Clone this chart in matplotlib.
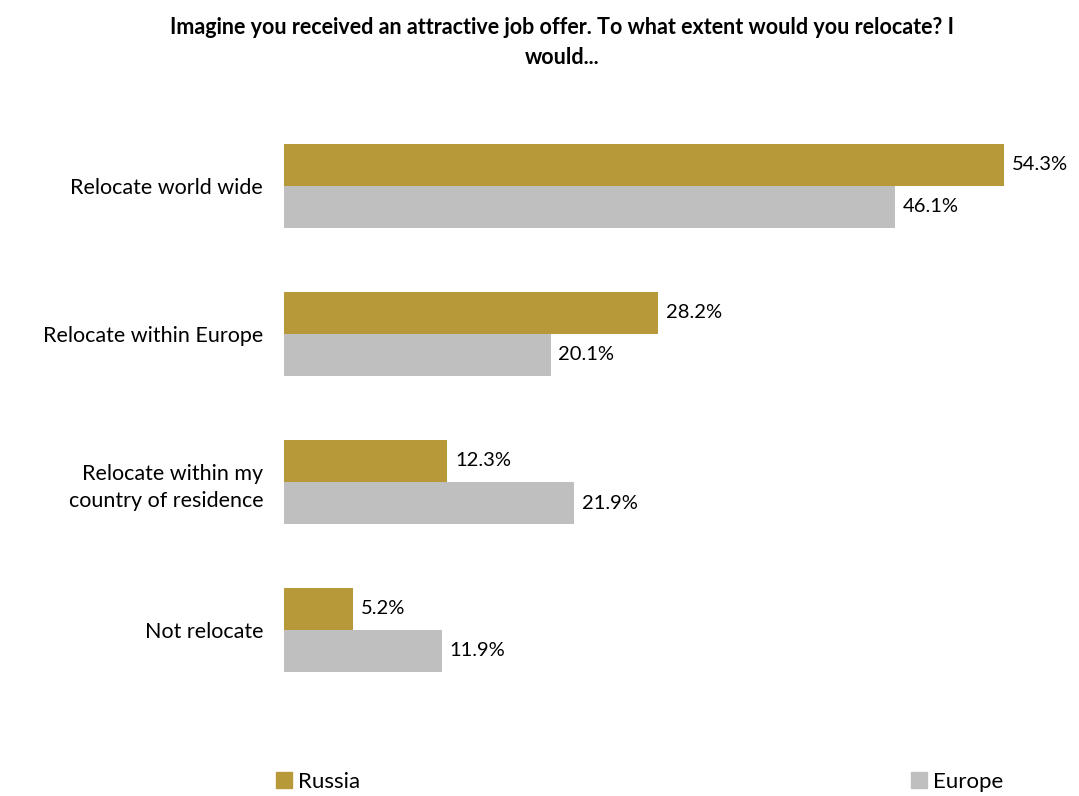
import numpy as np
import matplotlib.pyplot as plt
from matplotlib.patches import Patch

categories = ['Relocate world wide', 'Relocate within Europe',
              'Relocate within my\ncountry of residence', 'Not relocate']
russia = [54.3, 28.2, 12.3, 5.2]
europe = [46.1, 20.1, 21.9, 11.9]
series_names = ['Russia', 'Europe']
colors = ['#B8993A', '#BFBFBF']

plt.rcParams['font.family'] = ['Lato', 'DejaVu Sans']

W, H = 1079, 796
fig = plt.figure(figsize=(W / 100, H / 100), dpi=100)
# axes placed in pixel terms
left, right, top, bottom = 284, 1080, 80, 740
ax = fig.add_axes([left / W, 1 - bottom / H, (right - left) / W, (bottom - top) / H])

y = np.arange(len(categories))
h = 42 / 148
ax.barh(y - h / 2, russia, height=h, color=colors[0])
ax.barh(y + h / 2, europe, height=h, color=colors[1])

ax.set_xlim(0, (right - left) / 13.26)
ax.set_ylim((bottom - 186) / 148, (top - 186) / 148)

for i in range(len(categories)):
    ax.text(russia[i] + 0.6, y[i] - h / 2, f'{russia[i]:.1f}%', va='center', ha='left', fontsize=14.5)
    ax.text(europe[i] + 0.6, y[i] + h / 2, f'{europe[i]:.1f}%', va='center', ha='left', fontsize=14.5)

ax.set_yticks(y)
ax.set_yticklabels(categories, fontsize=15.5, linespacing=1.45)
ax.tick_params(axis='y', length=0, pad=15)
ax.set_xticks([])
for s in ax.spines.values():
    s.set_visible(False)

fig.text(562 / W, 1 - 28 / H, 'Imagine you received an attractive job offer. To what extent would you relocate? I',
         ha='center', va='center', fontsize=15.5, fontweight='bold')
fig.text(562 / W, 1 - 57 / H, 'would...', ha='center', va='center', fontsize=15.5, fontweight='bold')

fig.legend(handles=[Patch(color=colors[0], label=series_names[0])], loc='center left',
           bbox_to_anchor=(256 / W, 1 - 782 / H), frameon=False, fontsize=16,
           handlelength=0.7, handleheight=0.7, handletextpad=0.3)
fig.legend(handles=[Patch(color=colors[1], label=series_names[1])], loc='center left',
           bbox_to_anchor=(891 / W, 1 - 782 / H), frameon=False, fontsize=16,
           handlelength=0.7, handleheight=0.7, handletextpad=0.3)

fig.savefig('out.png', dpi=100)
